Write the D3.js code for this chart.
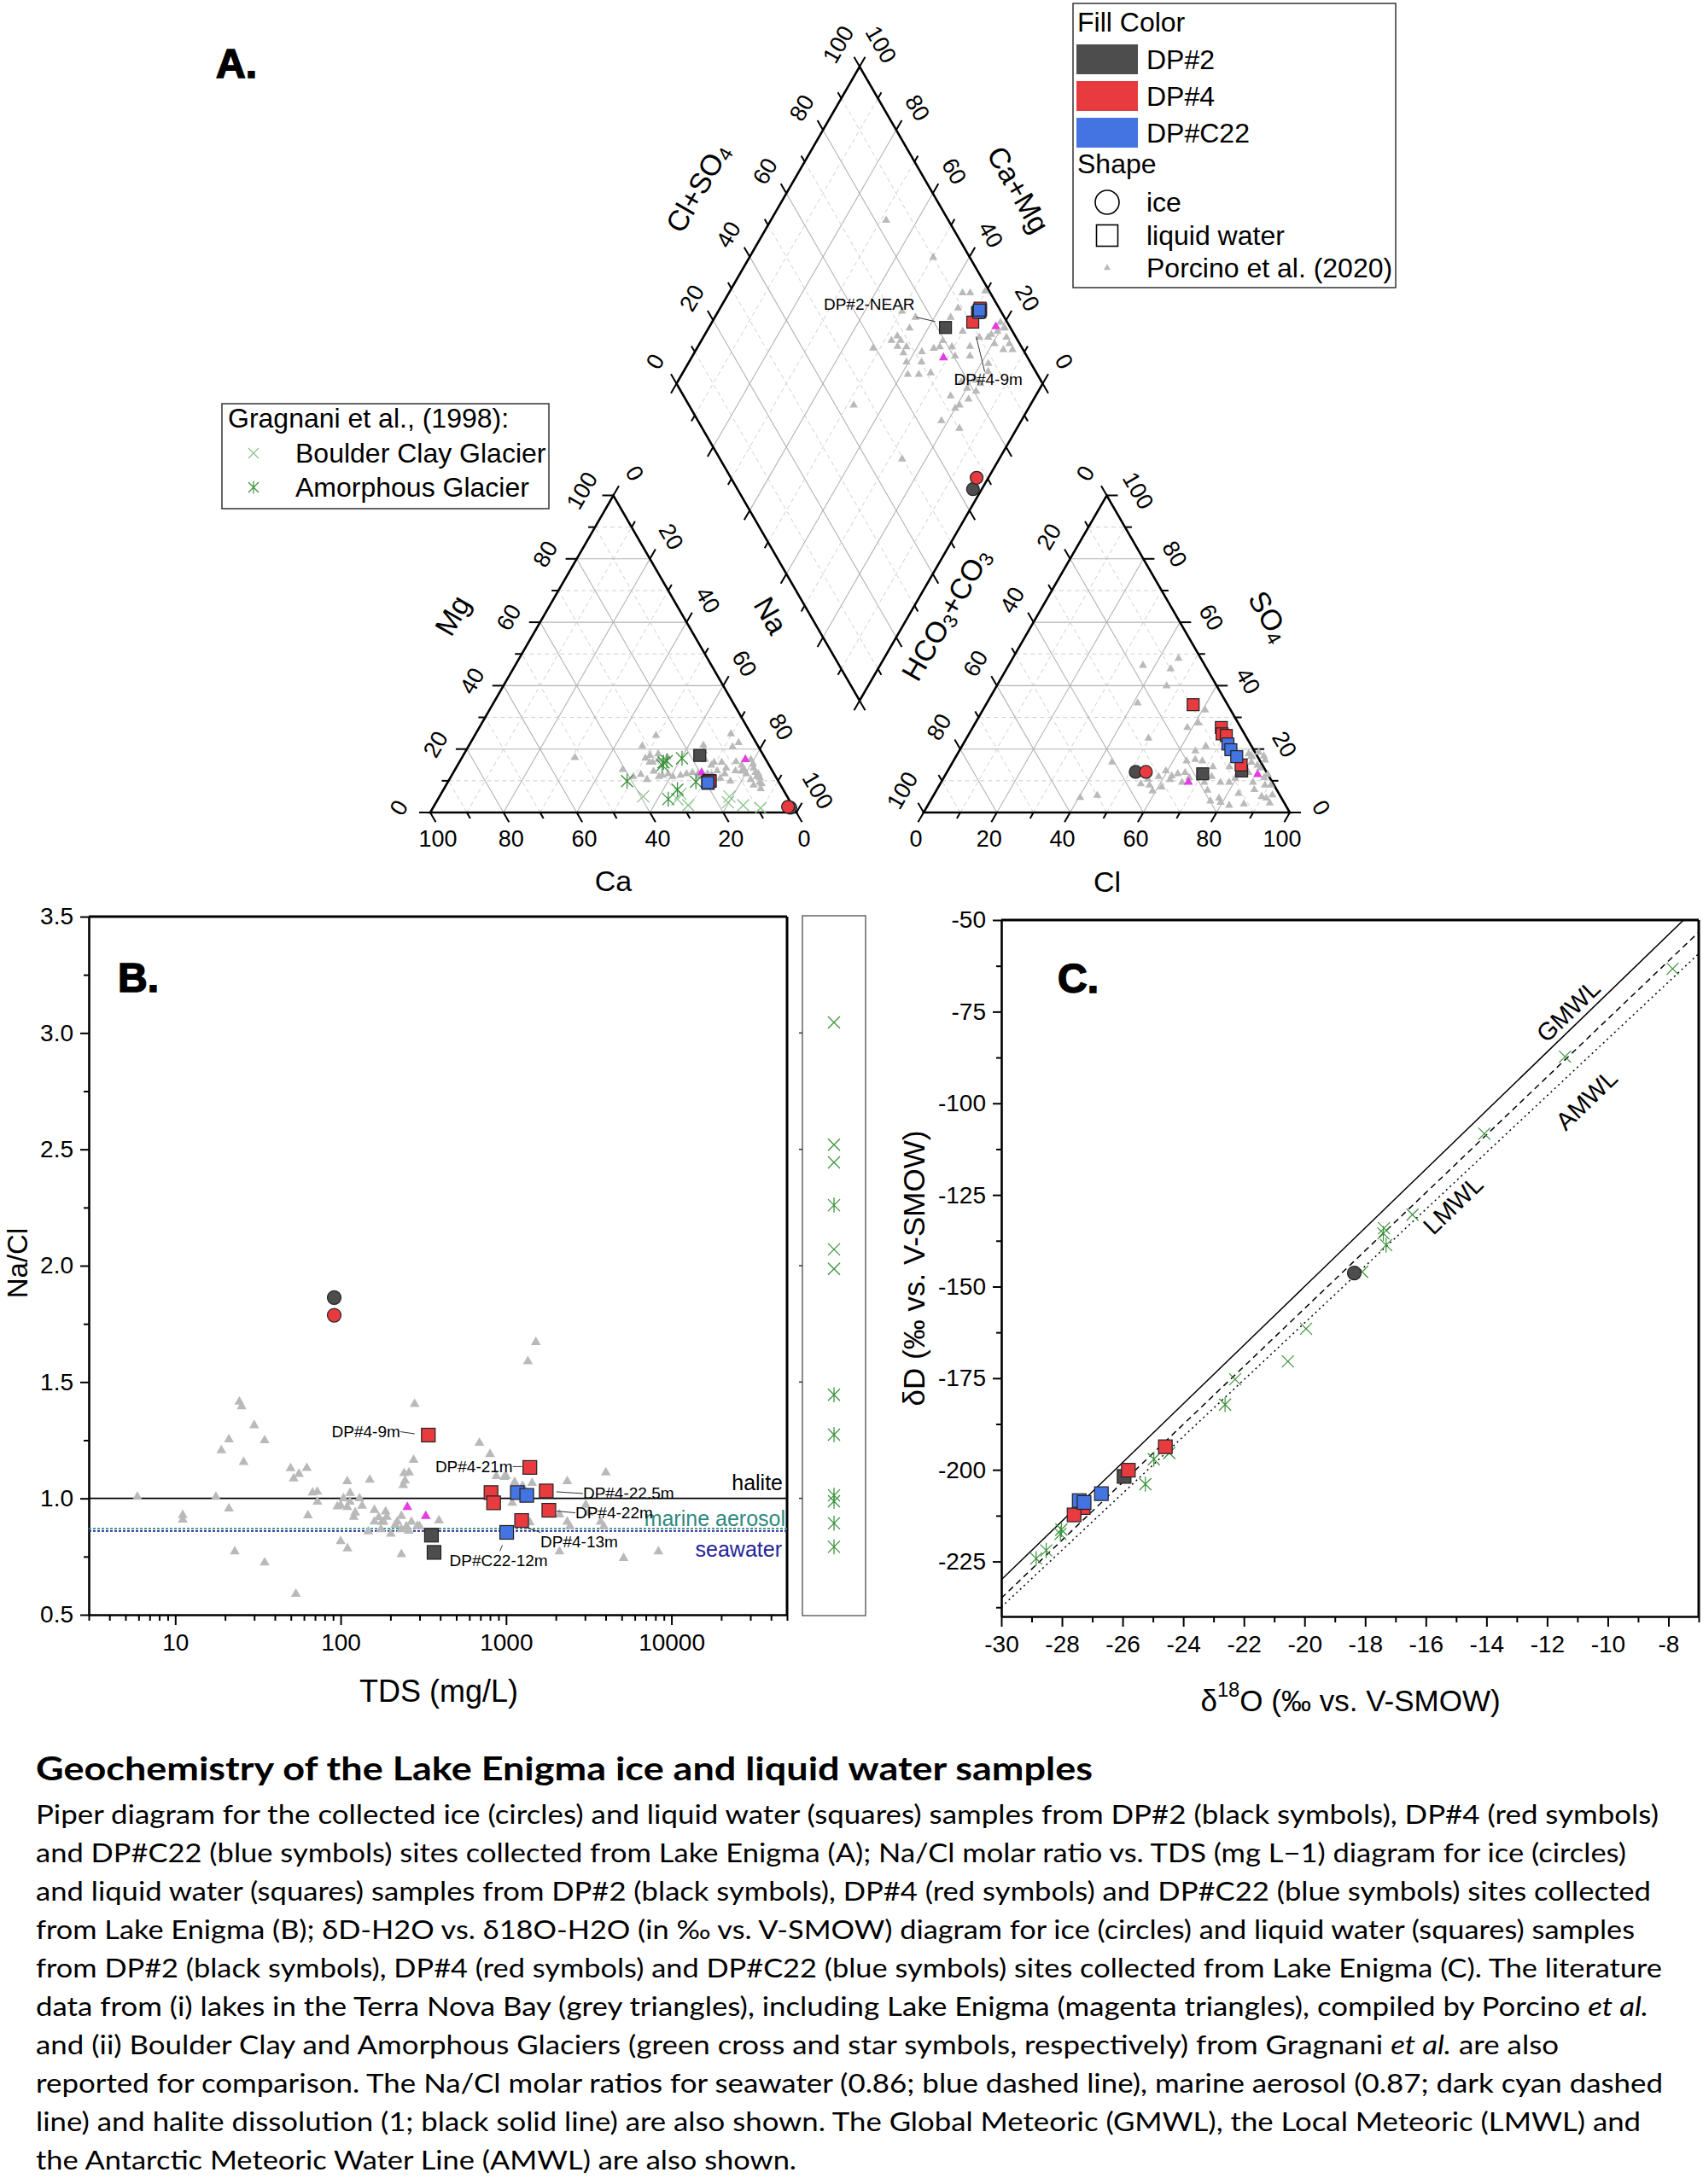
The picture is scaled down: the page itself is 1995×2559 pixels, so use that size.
<!DOCTYPE html>
<html>
<head>
<meta charset="utf-8">
<script src="https://cdn.jsdelivr.net/npm/d3@7/dist/d3.min.js"></script>
<style>
html,body{margin:0;padding:0;background:#fff;}
svg{display:block;}
</style>
</head>
<body>
<svg id="fig" width="1995" height="2559" xmlns="http://www.w3.org/2000/svg"></svg>
<script>
// ======================= DATA =======================
const sites = ["DP#2", "DP#4", "DP#C22"];
const siteColors = ["#4d4d4d", "#e83b40", "#4474e2"];

// Piper (A): cation [Mg %, Na %] (Ca = rest), anion [Cl %, SO4 %] (HCO3 = rest)
const piperIce = [
  {site: "DP#2", cat: [1.5, 97.6], an: [51.5, 12.8]},
  {site: "DP#4", cat: [1.8, 96.8], an: [54.3, 12.8]}
];
const piperWater = [
  {site: "DP#2", cat: [18.0, 64.6], an: [70.1, 12.2], label: "DP#2-NEAR"},
  {site: "DP#2", cat: [9.6, 71.0], an: [80.3, 13.1]},
  {site: "DP#4", cat: [9.8, 71.2], an: [56.6, 34.0], label: "DP#4-9m"},
  {site: "DP#4", cat: [10.0, 71.4], an: [67.9, 26.8]},
  {site: "DP#4", cat: [9.9, 71.3], an: [69.1, 24.8]},
  {site: "DP#4", cat: [10.1, 71.0], an: [70.5, 24.3]},
  {site: "DP#4", cat: [9.9, 71.5], an: [79.2, 15.0]},
  {site: "DP#C22", cat: [9.3, 71.2], an: [72.3, 21.6]},
  {site: "DP#C22", cat: [9.2, 71.3], an: [74.0, 19.8]},
  {site: "DP#C22", cat: [9.4, 71.1], an: [76.7, 17.6]}
];
// Porcino et al. (2020) lakes, cation triangle [Mg, Na]
const porcinoCation = [[17.3,30.9],[24.3,49.5],[21,47.4],[13.5,45.8],[11.3,49.8],[10.4,54],[18,51],[16.7,54],[12.2,58.9],[11.7,62.5],[12.6,65.3],[21.2,64],[19.4,65],[15.8,69.6],[13.1,71.8],[14,73.8],[24.8,69.7],[22,73.2],[20.7,72.2],[14.9,77.6],[16.7,79.2],[14,81.3],[11.3,83.5],[8.6,84],[10.4,82.3],[12.2,80.2],[13.1,76.8],[12.2,74.3],[9.9,77],[9.5,85.2],[10.8,73.8],[12.2,69.6],[11.3,67.7],[11.3,56.8],[15.8,52],[11.7,57.5],[11.3,60.6],[12.2,63.9],[14.9,69.3],[15.8,71.7],[17.1,50.2],[15.8,52.9],[16.7,66.7],[15.3,80.5],[12.6,82.5],[12.2,83.5],[11,84.5],[13.5,79],[9,86],[7.5,86.5],[16,75.5],[13,78.5],[11.8,71],[12.4,67],[17.5,56],[13,54.5],[12,51.5],[18.5,53]];
// anion triangle [Cl, SO4]
const porcinoAnion = [[45.3,48.6],[36.7,46.4],[44.8,45.3],[46.4,39.9],[41.2,34.5],[60.7,32.3],[60.9,28.2],[58.6,26.8],[49.7,23.4],[66.6,20.9],[43.5,15.9],[40.4,4.7],[44.7,5.4],[54.8,9],[57.4,8.6],[59.1,6.8],[58.5,11.3],[59.6,13.1],[62.1,10.4],[63.3,12.2],[65.8,9.5],[63.7,16.2],[65.8,16.7],[68,16.2],[71.8,14.4],[76.5,3.6],[78.4,4.5],[82.3,2.25],[86.1,2.7],[86.7,7.2],[89.8,5],[91.3,4.5],[90.5,8.6],[88.9,8.6],[82.4,12.6],[81.6,15.8],[79.5,18.5],[80.9,17.6],[83.7,14.9],[84.9,14],[76.3,14.4],[79.7,10.8],[78.7,9.5],[76.3,9.5],[79.5,3.2],[85.2,9.5],[65.1,12.6],[64.5,19.4],[73,11.3],[71.9,9.5],[56,10.5],[61,8],[62,11.5],[67,11],[70,12.5],[74,7],[83,6],[87.5,11],[88,12],[85,16.5],[82,19],[84,17.8],[92.5,5.5],[93,3]];
// diamond [Cl+SO4, Na]
const porcinoDiamond = [[83,31.5],[90,50.2],[92.4,63.8],[94.5,65.9],[98.9,69.7],[85.3,64.4],[88.8,65],[75.7,54.8],[73,50.2],[72.4,54.9],[67.8,52.8],[65.5,51.9],[68,54.4],[68.6,57],[66.2,54.5],[59.3,48.1],[66.2,59.4],[70.3,63.5],[64.6,61.7],[67.6,64.7],[71.1,67.7],[75.8,64.7],[77.7,66.1],[81,69.4],[80.4,71.7],[84.5,75.8],[86.4,69.9],[90,75.4],[92.4,77.8],[93.7,78.2],[95.9,79.4],[98.1,78.8],[98.4,80.9],[97.4,82.8],[97.2,84.6],[94.6,83.9],[97.1,86.4],[93.1,80.5],[88.3,82],[87,83.2],[78,77.5],[78.6,80.1],[80.6,83],[83,83],[72.9,76.8],[77.3,82.2],[72.2,80],[73.9,80.7],[66.5,78.2],[70.2,84.3],[45,51.8],[49.7,73.5],[86,74.3],[79.5,66],[82.3,81.3],[72,62],[66.8,57.1]];
// Lake Enigma (Porcino), magenta
const enigmaCation = [[16.7,77.7],[12.6,67.8]];
const enigmaAnion = [[67.5,9.6],[85.2,12]];
const enigmaDiamond = [[77,68.8],[96.2,78.2]];
// Gragnani et al. (1998), cation triangle [Mg, Na]
const boulderCation = [[5.1,55.6],[4.2,65.4],[5.9,65.4],[2.3,69.3],[3.2,79.7],[5,79.2],[2.3,84.3],[1.4,89.5]];
const amorphousCation = [[17.1,60.2],[16.2,56.5],[14.9,55.9],[15.8,55.8],[9.9,48.8],[7.2,63.9],[4.2,62.9],[9.7,67.7]];
const ternTicks = [0,10,20,30,40,50,60,70,80,90,100];

// Panel B: [TDS mg/L, Na/Cl]
const bIce = [{site:"DP#2", v:[91.4,1.863]}, {site:"DP#4", v:[91.4,1.787]}];
const bWater = [
  {site:"DP#2", v:[354,0.842]}, {site:"DP#2", v:[367,0.768]},
  {site:"DP#4", v:[339,1.272], label:"DP#4-9m"},
  {site:"DP#4", v:[1393,1.133], label:"DP#4-21m"},
  {site:"DP#4", v:[811,1.025]}, {site:"DP#4", v:[841,0.981]},
  {site:"DP#4", v:[1750,1.032], label:"DP#4-22.5m"},
  {site:"DP#4", v:[1815,0.949], label:"DP#4-22m"},
  {site:"DP#4", v:[1242,0.905], label:"DP#4-13m"},
  {site:"DP#C22", v:[1170,1.025]}, {site:"DP#C22", v:[1334,1.013]},
  {site:"DP#C22", v:[1009,0.854], label:"DP#C22-12m"}
];
const bPorcino = [[5.9,1.006],[11.1,0.928],[11.1,0.908],[17.6,1.006],[21.1,0.956],[22.9,0.772],[24.4,1.415],[25.2,1.395],[19,1.206],[21.1,1.253],[25.9,1.156],[30,1.314],[34.7,1.249],[34.7,0.724],[49.8,1.129],[52,1.085],[56,1.105],[62.4,1.13],[63.4,0.927],[67.6,1.025],[72.2,1.028],[72.4,0.985],[53.6,0.589],[95.5,0.965],[100,0.816],[109.6,1.073],[110,0.785],[104,1.0],[113.7,0.985],[114,1.023],[109.6,0.962],[122.5,0.939],[134.8,0.968],[150,1.08],[147,0.858],[170,0.918],[178,0.899],[182,0.899],[187,0.943],[175,0.867],[201,0.848],[214,0.886],[233,0.867],[233,0.76],[233,0.924],[239,1.057],[242,1.108],[245,1.076],[259,1.111],[280,1.405],[276,1.165],[258,0.861],[268,0.899],[291,0.882],[393,0.905],[690,1.238],[800,1.19],[873,1.095],[975,1.092],[1000,1.095],[1127,1.07],[1259,1.053],[1355,1.589],[1514,1.671],[1437,1.066],[1090,0.981],[1393,0.896],[2104,0.93],[2104,0.772],[2344,1.073],[2344,0.899],[2433,0.88],[3034,0.972],[3149,0.939],[3726,0.899],[3900,0.88],[4010,1.111],[5140,0.743],[8340,0.772],[100,0.97],[120,0.92],[160,0.9],[190,0.92],[220,0.9],[250,0.88],[300,0.88],[130,1.0],[160,0.95]];
const bEnigma = [[253,0.962],[327,0.924]];
const bBoulder = [3.045, 2.52, 2.444, 2.07, 1.986];
const bAmorphous = [2.26, 1.445, 1.274, 1.013, 0.988, 0.893, 0.792];
const bRefLines = [{name:"halite", v:1.0, color:"#000", dash:null},
                   {name:"marine aerosol", v:0.87, color:"#2f8a80", dash:"3,2"},
                   {name:"seawater", v:0.86, color:"#23239a", dash:"3,2"}];
const bYTicks = [0.5,1.0,1.5,2.0,2.5,3.0,3.5];
const bXTicks = [10,100,1000,10000];

// Panel C: [d18O, dD]
const cIce = [{site:"DP#2", v:[-18.36,-146.3]}];
const cWater = [
  {site:"DP#2", v:[-25.95,-201.8]},
  {site:"DP#4", v:[-24.59,-193.7]}, {site:"DP#4", v:[-25.81,-200.1]},
  {site:"DP#4", v:[-27.3,-210.3]}, {site:"DP#4", v:[-27.6,-212.3]},
  {site:"DP#C22", v:[-26.7,-206.5]}, {site:"DP#C22", v:[-27.43,-208.4]}, {site:"DP#C22", v:[-27.27,-208.9]}
];
const cBoulder = [[-7.86,-63.3],[-11.41,-87.3],[-14.07,-108.3],[-16.44,-130.4],[-17.38,-134.1],[-18.1,-146],[-19.95,-161.5],[-20.55,-170.4],[-22.29,-175.3],[-24.46,-195.4]];
const cAmorphous = [[-17.31,-138.7],[-17.4,-135.5],[-22.62,-182.2],[-24.97,-197.1],[-25.25,-203.9],[-28.02,-216.3],[-28.05,-217.5],[-28.52,-222],[-28.85,-224.2]];
// meteoric water lines dD = slope*d18O + intercept
const cLines = [{name:"GMWL", slope:8, icpt:10, dash:null, at:-11.3, off:[0,-24]},
                {name:"LMWL", slope:7.9, icpt:2, dash:"7,5", at:-15.1, off:[0,45]},
                {name:"AMWL", slope:7.75, icpt:-4.93, dash:"2,4", at:-10.7, off:[0,48]}];
const cXTicks = [-30,-28,-26,-24,-22,-20,-18,-16,-14,-12,-10,-8];
const cYTicks = [-225,-200,-175,-150,-125,-100,-75,-50];

// Caption
const captionTitle = "Geochemistry of the Lake Enigma ice and liquid water samples";
const captionLines = [
  [["Piper diagram for the collected ice (circles) and liquid water (squares) samples from DP#2 (black symbols), DP#4 (red symbols)"]],
  [["and DP#C22 (blue symbols) sites collected from Lake Enigma (A); Na/Cl molar ratio vs. TDS (mg L\u22121) diagram for ice (circles)"]],
  [["and liquid water (squares) samples from DP#2 (black symbols), DP#4 (red symbols) and DP#C22 (blue symbols) sites collected"]],
  [["from Lake Enigma (B); \u03b4D-H2O vs. \u03b418O-H2O (in \u2030 vs. V-SMOW) diagram for ice (circles) and liquid water (squares) samples"]],
  [["from DP#2 (black symbols), DP#4 (red symbols) and DP#C22 (blue symbols) sites collected from Lake Enigma (C). The literature"]],
  [["data from (i) lakes in the Terra Nova Bay (grey triangles), including Lake Enigma (magenta triangles), compiled by Porcino "],["et al.",1]],
  [["and (ii) Boulder Clay and Amorphous Glaciers (green cross and star symbols, respectively) from Gragnani "],["et al.",1],[" are also"]],
  [["reported for comparison. The Na/Cl molar ratios for seawater (0.86; blue dashed line), marine aerosol (0.87; dark cyan dashed"]],
  [["line) and halite dissolution (1; black solid line) are also shown. The Global Meteoric (GMWL), the Local Meteoric (LMWL) and"]],
  [["the Antarctic Meteoric Water Line (AMWL) are also shown."]]
];
const captionWidths = [1901,1863,1892,1873,1905,1889,1784,1906,1880,891];

// ======================= DRAW =======================
const FONT = "'Liberation Sans', Arial, Helvetica, sans-serif";
const GRAY = "#b9b9b9", MAG = "#e23ee2", GREEN = "#3c923c", LGREEN = "#86c086";
const colorOf = s => siteColors[sites.indexOf(s)];
const svg = d3.select("#fig");
svg.append("rect").attr("width",1995).attr("height",2559).attr("fill","#fff");

function mk(g, kind, p, o = {}) {
  const [x, y] = p;
  if (kind === "circle") {
    g.append("circle").attr("cx", x).attr("cy", y).attr("r", o.r || 7)
      .attr("fill", o.fill || "none").attr("stroke", o.stroke || "#222").attr("stroke-width", o.sw || 1.2);
  } else if (kind === "square") {
    const s = o.s || 13;
    g.append("rect").attr("x", x - s/2).attr("y", y - s/2).attr("width", s).attr("height", s)
      .attr("fill", o.fill || "none").attr("stroke", o.stroke || "#222").attr("stroke-width", o.sw || 1.2);
  } else if (kind === "tri") {
    g.append("path").attr("d", d3.symbol(d3.symbolTriangle, o.area || 30)())
      .attr("transform", `translate(${x},${y})`).attr("fill", o.fill || GRAY);
  } else if (kind === "cross" || kind === "star") {
    const s = o.s || 6;
    let d = `M${x-s},${y-s}L${x+s},${y+s}M${x-s},${y+s}L${x+s},${y-s}`;
    if (kind === "star") d += `M${x},${y-s*1.25}L${x},${y+s*1.25}`;
    g.append("path").attr("d", d).attr("stroke", o.stroke || GREEN).attr("stroke-width", o.sw || 1.2).attr("fill", "none");
  }
}
function line(g, p, q, attrs) {
  const l = g.append("line").attr("x1", p[0]).attr("y1", p[1]).attr("x2", q[0]).attr("y2", q[1]);
  for (const k in attrs) l.attr(k, attrs[k]);
  return l;
}
// rich text: parts [text, 'sub'|'sup'|null]
function rich(g, x, y, parts, o = {}) {
  const t = g.append("text").attr("font-family", FONT).attr("font-size", o.fs || 30)
    .attr("text-anchor", o.anchor || "middle").attr("fill", o.fill || "#000")
    .attr("transform", `translate(${x},${y}) rotate(${o.rot || 0})`);
  if (o.baseline) t.attr("dominant-baseline", o.baseline);
  const fs = o.fs || 30;
  let shift = 0;
  parts.forEach(([txt, mode]) => {
    const ts = t.append("tspan").text(txt);
    let target = 0;
    if (mode === "sub") { target = fs * 0.25; ts.attr("font-size", fs * 0.68); }
    if (mode === "sup") { target = -fs * 0.38; ts.attr("font-size", fs * 0.68); }
    if (target !== shift) { ts.attr("dy", target - shift); shift = target; }
  });
  return t;
}

// ---------------- Panel A : Piper ----------------
const S = 429, HH = S * Math.sqrt(3) / 2;
const LT = {bl: [504, 952], br: [504 + S, 952], ap: [504 + S/2, 952 - HH]};
const RT = {bl: [1082, 952], br: [1082 + S, 952], ap: [1082 + S/2, 952 - HH]};
const DM = {left: [1007 - S/2, 449.5], top: [1007, 449.5 - HH], right: [1007 + S/2, 449.5], bottom: [1007, 449.5 + HH]};
const pc = d3.scaleLinear().domain([0, 100]).range([0, 1]);
function tern(T, wBL, wBR, wAP) {
  const a = pc(wBL), b = pc(wBR), c = pc(wAP);
  return [a*T.bl[0] + b*T.br[0] + c*T.ap[0], a*T.bl[1] + b*T.br[1] + c*T.ap[1]];
}
const catPos = d => tern(LT, 100 - d[0] - d[1], d[1], d[0]);
const anPos = d => tern(RT, 100 - d[0] - d[1], d[0], d[1]);
function dmPos(a, n) {
  const A = pc(a), N = pc(n);
  return [DM.left[0] + A*(DM.top[0]-DM.left[0]) + N*(DM.right[0]-DM.top[0]),
          DM.left[1] + A*(DM.top[1]-DM.left[1]) + N*(DM.right[1]-DM.top[1])];
}
const gA = svg.append("g").attr("font-family", FONT);
const gridG = gA.append("g");
const majorStyle = {stroke: "#b3b3b3", "stroke-width": 1.1};
const minorStyle = {stroke: "#cfcfcf", "stroke-width": 1, "stroke-dasharray": "5,4"};
ternTicks.filter(v => v > 0 && v < 100).forEach(v => {
  const st = v % 20 === 0 ? majorStyle : minorStyle;
  [LT, RT].forEach(T => {
    line(gridG, tern(T, v, 100-v, 0), tern(T, v, 0, 100-v), st);
    line(gridG, tern(T, 100-v, v, 0), tern(T, 0, v, 100-v), st);
    line(gridG, tern(T, 100-v, 0, v), tern(T, 0, 100-v, v), st);
  });
  line(gridG, dmPos(v, 0), dmPos(v, 100), st);
  line(gridG, dmPos(0, v), dmPos(100, v), st);
});
// outlines
[[LT.bl, LT.br, LT.ap], [RT.bl, RT.br, RT.ap], [DM.left, DM.top, DM.right, DM.bottom]].forEach(pts => {
  gA.append("path").attr("d", "M" + pts.map(p => p.join(",")).join("L") + "Z")
    .attr("fill", "none").attr("stroke", "#000").attr("stroke-width", 2.6).attr("stroke-linejoin", "miter");
});
// ticks and tick labels
const edgeSpecs = [
  {pt: v => tern(LT, v, 100-v, 0), dir: [0.5, 0.866], nrm: [0, 1], a: 18, b: 15, rot: 0, lab: true},
  {pt: v => tern(LT, 100-v, 0, v), dir: [-1, 0], nrm: [-0.866, -0.5], a: 27, b: 11, rot: -60, lab: true},
  {pt: v => tern(LT, 0, v, 100-v), dir: [0.5, -0.866], nrm: [0.866, -0.5], a: 20, b: 17, rot: 60, lab: true},
  {pt: v => tern(RT, 100-v, v, 0), dir: [-0.5, 0.866], nrm: [0, 1], a: 18, b: 15, rot: 0, lab: true},
  {pt: v => tern(RT, v, 0, 100-v), dir: [-0.5, -0.866], nrm: [-0.866, -0.5], a: 20, b: 17, rot: -60, lab: true},
  {pt: v => tern(RT, 0, 100-v, v), dir: [1, 0], nrm: [0.866, -0.5], a: 27, b: 11, rot: 60, lab: true},
  {pt: v => dmPos(v, 0), dir: [-0.5, -0.866], nrm: [-0.866, -0.5], a: 20, b: 17, rot: -60, lab: true},
  {pt: v => dmPos(100, 100-v), dir: [0.5, -0.866], nrm: [0.866, -0.5], a: 20, b: 17, rot: 60, lab: true},
  {pt: v => dmPos(0, v), dir: [-0.5, 0.866], lab: false},
  {pt: v => dmPos(v, 100), dir: [0.5, 0.866], lab: false}
];
edgeSpecs.forEach(e => {
  ternTicks.forEach(v => {
    const p = e.pt(v);
    const len = v % 20 === 0 ? 13 : 8;
    line(gA, p, [p[0] + e.dir[0]*len, p[1] + e.dir[1]*len], {stroke: "#000", "stroke-width": 2});
    if (e.lab && v % 20 === 0) {
      const lx = p[0] + e.a*e.dir[0] + e.b*e.nrm[0], ly = p[1] + e.a*e.dir[1] + e.b*e.nrm[1];
      gA.append("text").attr("font-size", 27).attr("text-anchor", "middle").attr("dominant-baseline", "central")
        .attr("transform", `translate(${lx},${ly}) rotate(${e.rot})`).text(v);
    }
  });
});
// axis titles
rich(gA, 817, 220, [["Cl+SO"], ["4", "sub"]], {fs: 34, rot: -60, baseline: "central"});
rich(gA, 1193, 222, [["Ca+Mg"]], {fs: 34, rot: 60, baseline: "central"});
rich(gA, 530, 721, [["Mg"]], {fs: 34, rot: -60, baseline: "central"});
rich(gA, 903, 721, [["Na"]], {fs: 34, rot: 60, baseline: "central"});
rich(gA, 718.5, 1032, [["Ca"]], {fs: 34, baseline: "central"});
rich(gA, 1108, 720, [["HCO"], ["3", "sub"], ["+CO", null], ["3", "sub"]], {fs: 34, rot: -60, baseline: "central"});
rich(gA, 1487, 722, [["SO"], ["4", "sub"]], {fs: 34, rot: 60, baseline: "central"});
rich(gA, 1297, 1033, [["Cl"]], {fs: 34, baseline: "central"});
gA.append("text").attr("x", 253).attr("y", 91).attr("font-size", 48).attr("font-weight", 900)
  .attr("stroke", "#000").attr("stroke-width", 1.6).text("A.");

// points
const ptsA = gA.append("g");
porcinoCation.forEach(d => mk(ptsA, "tri", catPos(d), {area: 40}));
porcinoAnion.forEach(d => mk(ptsA, "tri", anPos(d), {area: 40}));
porcinoDiamond.forEach(d => mk(ptsA, "tri", dmPos(d[0], d[1]), {area: 40}));
enigmaCation.forEach(d => mk(ptsA, "tri", catPos(d), {area: 50, fill: MAG}));
enigmaAnion.forEach(d => mk(ptsA, "tri", anPos(d), {area: 50, fill: MAG}));
enigmaDiamond.forEach(d => mk(ptsA, "tri", dmPos(d[0], d[1]), {area: 50, fill: MAG}));
boulderCation.forEach(d => mk(ptsA, "cross", catPos(d), {s: 7, stroke: LGREEN, sw: 1.2}));
amorphousCation.forEach(d => mk(ptsA, "star", catPos(d), {s: 7, stroke: GREEN, sw: 1.3}));
piperIce.forEach(d => {
  const f = colorOf(d.site);
  mk(ptsA, "circle", catPos(d.cat), {r: 7.5, fill: f});
  mk(ptsA, "circle", anPos(d.an), {r: 7.5, fill: f});
  mk(ptsA, "circle", dmPos(d.an[0] + d.an[1], d.cat[1]), {r: 7.5, fill: f});
});
sites.forEach(s => piperWater.filter(d => d.site === s).forEach(d => {
  const f = colorOf(d.site);
  mk(ptsA, "square", catPos(d.cat), {s: 14, fill: f});
  mk(ptsA, "square", anPos(d.an), {s: 14, fill: f});
  mk(ptsA, "square", dmPos(d.an[0] + d.an[1], d.cat[1]), {s: 14, fill: f});
}));
// labels in diamond
piperWater.filter(d => d.label).forEach(d => {
  const p = dmPos(d.an[0] + d.an[1], d.cat[1]);
  if (d.label === "DP#2-NEAR") {
    ptsA.append("text").attr("x", p[0] - 36).attr("y", p[1] - 21).attr("font-size", 19).attr("text-anchor", "end").text(d.label);
    line(ptsA, [p[0] - 34, p[1] - 12], [p[0] - 12, p[1] - 7], {stroke: "#333", "stroke-width": 1});
  } else {
    ptsA.append("text").attr("x", p[0] - 22).attr("y", p[1] + 74).attr("font-size", 19).text(d.label);
    line(ptsA, [p[0] + 4, p[1] + 17], [p[0] + 14, p[1] + 58], {stroke: "#333", "stroke-width": 1});
  }
});

// legends
const lg = svg.append("g").attr("font-family", FONT);
lg.append("rect").attr("x", 1257).attr("y", 4).attr("width", 378).attr("height", 333)
  .attr("fill", "#fff").attr("stroke", "#333").attr("stroke-width", 1.5);
lg.append("text").attr("x", 1262).attr("y", 37).attr("font-size", 32).text("Fill Color");
sites.forEach((s, i) => {
  lg.append("rect").attr("x", 1261).attr("y", 52 + i*43).attr("width", 72).attr("height", 35).attr("fill", siteColors[i]);
  lg.append("text").attr("x", 1343).attr("y", 81 + i*43).attr("font-size", 32).text(s);
});
lg.append("text").attr("x", 1262).attr("y", 203).attr("font-size", 32).text("Shape");
mk(lg, "circle", [1297, 237], {r: 14, fill: "#fff", stroke: "#000", sw: 1.6});
lg.append("text").attr("x", 1343).attr("y", 248).attr("font-size", 32).text("ice");
mk(lg, "square", [1297, 276], {s: 25, fill: "#fff", stroke: "#000", sw: 1.6});
lg.append("text").attr("x", 1343).attr("y", 287).attr("font-size", 32).text("liquid water");
mk(lg, "tri", [1297, 314], {area: 28});
lg.append("text").attr("x", 1343).attr("y", 325).attr("font-size", 32).text("Porcino et al. (2020)");

lg.append("rect").attr("x", 260).attr("y", 473).attr("width", 383).attr("height", 123)
  .attr("fill", "#fff").attr("stroke", "#333").attr("stroke-width", 1.5);
lg.append("text").attr("x", 267).attr("y", 501).attr("font-size", 32).text("Gragnani et al., (1998):");
mk(lg, "cross", [297, 531], {s: 6, stroke: LGREEN, sw: 1.1});
lg.append("text").attr("x", 346).attr("y", 542).attr("font-size", 32).text("Boulder Clay Glacier");
mk(lg, "star", [297, 571], {s: 6, stroke: GREEN, sw: 1.2});
lg.append("text").attr("x", 346).attr("y", 582).attr("font-size", 32).text("Amorphous Glacier");

// ---------------- Panel B ----------------
function styleAxis(sel, fs, sw) {
  sel.attr("font-family", FONT).attr("font-size", fs);
  sel.selectAll(".domain").attr("stroke", "#000").attr("stroke-width", sw || 2.6);
  sel.selectAll(".tick line").attr("stroke", "#000").attr("stroke-width", 2);
  sel.selectAll(".tick text").attr("fill", "#000");
}
const gB = svg.append("g").attr("font-family", FONT);
const bx = d3.scaleLog().domain([3, 50000]).range([104, 922]);
const by = d3.scaleLinear().domain([0.5, 3.5]).range([1892, 1074]);
const bxMinor = [];
for (let e = 0; e < 5; e++) for (let m = 2; m <= 9; m++) {
  const v = m * Math.pow(10, e);
  if (v >= 3 && v <= 50000 && !bXTicks.includes(v)) bxMinor.push(v);
}
const byMinor = d3.range(0.75, 3.5, 0.5);
gB.append("g").attr("transform", "translate(0,1892)")
  .call(d3.axisBottom(bx).tickValues(bxMinor).tickFormat("").tickSize(7).tickSizeOuter(0))
  .call(s => { styleAxis(s, 28); s.select(".domain").remove(); });
gB.append("g").attr("transform", "translate(0,1892)")
  .call(d3.axisBottom(bx).tickValues(bXTicks).tickFormat(d3.format("d")).tickSize(12).tickSizeOuter(0).tickPadding(10))
  .call(s => styleAxis(s, 28));
gB.append("g").attr("transform", "translate(104,0)")
  .call(d3.axisLeft(by).tickValues(byMinor).tickFormat("").tickSize(6).tickSizeOuter(0))
  .call(s => { styleAxis(s, 28); s.select(".domain").remove(); });
gB.append("g").attr("transform", "translate(104,0)")
  .call(d3.axisLeft(by).tickValues(bYTicks).tickFormat(d3.format(".1f")).tickSize(10).tickSizeOuter(0).tickPadding(8))
  .call(s => styleAxis(s, 28));
line(gB, [104, 1074], [922, 1074], {stroke: "#000", "stroke-width": 3});
line(gB, [922, 1074], [922, 1892], {stroke: "#000", "stroke-width": 3});
gB.append("text").attr("x", 138).attr("y", 1162).attr("font-size", 48).attr("font-weight", 900)
  .attr("stroke", "#000").attr("stroke-width", 1.6).text("B.");
rich(gB, 20, 1480, [["Na/Cl"]], {fs: 33, rot: -90, baseline: "central"});
rich(gB, 514, 1981, [["TDS (mg/L)"]], {fs: 36, baseline: "central"});
// reference lines
bRefLines.forEach(r => {
  const l = line(gB, [bx(3), by(r.v)], [bx(50000), by(r.v)], {stroke: r.color, "stroke-width": 1.6});
  if (r.dash) l.attr("stroke-dasharray", r.dash);
});
gB.append("text").attr("x", 917).attr("y", 1737).attr("font-size", 25).attr("text-anchor", "end").attr("dominant-baseline", "central").text("halite");
gB.append("text").attr("x", 920).attr("y", 1779).attr("font-size", 25).attr("text-anchor", "end").attr("dominant-baseline", "central").attr("fill", "#2f8a80").text("marine aerosol");
gB.append("text").attr("x", 916).attr("y", 1815).attr("font-size", 25).attr("text-anchor", "end").attr("dominant-baseline", "central").attr("fill", "#23239a").text("seawater");
// points
const ptsB = gB.append("g");
const bPos = d => [bx(d[0]), by(d[1])];
bPorcino.forEach(d => mk(ptsB, "tri", bPos(d), {area: 58}));
bEnigma.forEach(d => mk(ptsB, "tri", bPos(d), {area: 58, fill: MAG}));
bIce.forEach(d => mk(ptsB, "circle", bPos(d.v), {r: 8, fill: colorOf(d.site)}));
sites.forEach(s => bWater.filter(d => d.site === s).forEach(d => mk(ptsB, "square", bPos(d.v), {s: 16, fill: colorOf(d.site)})));
const bLabelOff = {
  "DP#4-9m": {t: [-33, -4], a: "end", l: [[-33, -4], [-16, -1.5]]},
  "DP#4-21m": {t: [-20, -1], a: "end", l: [[-20, -1], [-9, -1]]},
  "DP#4-22.5m": {t: [43, 3], a: "start", l: [[12, 1], [43, 3]]},
  "DP#4-22m": {t: [31, 3], a: "start", l: [[9, 1], [31, 3]]},
  "DP#4-13m": {t: [22, 25], a: "start", l: [[5, 8], [22, 14]]},
  "DP#C22-12m": {t: [-67, 33], a: "start", l: [[-5, 15], [-8, 22]]}
};
bWater.filter(d => d.label).forEach(d => {
  const p = bPos(d.v), o = bLabelOff[d.label];
  ptsB.append("text").attr("x", p[0] + o.t[0]).attr("y", p[1] + o.t[1]).attr("font-size", 19)
    .attr("text-anchor", o.a).attr("dominant-baseline", "central").text(d.label);
  line(ptsB, [p[0] + o.l[0][0], p[1] + o.l[0][1]], [p[0] + o.l[1][0], p[1] + o.l[1][1]], {stroke: "#333", "stroke-width": 1});
});
// side strip
const strip = gB.append("g");
strip.append("rect").attr("x", 940).attr("y", 1073).attr("width", 74).attr("height", 820)
  .attr("fill", "#fff").attr("stroke", "#666").attr("stroke-width", 1.5);
[1.0, 1.5, 2.0, 2.5, 3.0].forEach(v => line(strip, [936, by(v)], [940, by(v)], {stroke: "#333", "stroke-width": 1.5}));
bBoulder.forEach(v => mk(strip, "cross", [977, by(v)], {s: 7, stroke: GREEN, sw: 1.3}));
bAmorphous.forEach(v => mk(strip, "star", [977, by(v)], {s: 7, stroke: GREEN, sw: 1.3}));

// ---------------- Panel C ----------------
const gC = svg.append("g").attr("font-family", FONT);
const cx = d3.scaleLinear().domain([-30, -7]).range([1173, 1990]);
const cy = d3.scaleLinear().domain([-240, -50]).range([1894, 1078]);
const fmtC = d => String(d);
gC.append("g").attr("transform", "translate(0,1894)")
  .call(d3.axisBottom(cx).tickValues(d3.range(-29, -6, 2)).tickFormat("").tickSize(7).tickSizeOuter(0))
  .call(s => { styleAxis(s, 28); s.select(".domain").remove(); });
gC.append("g").attr("transform", "translate(0,1894)")
  .call(d3.axisBottom(cx).tickValues(cXTicks).tickFormat(fmtC).tickSize(12).tickSizeOuter(0).tickPadding(10))
  .call(s => styleAxis(s, 28));
gC.append("g").attr("transform", "translate(1173,0)")
  .call(d3.axisLeft(cy).tickValues(d3.range(-237.5, -50, 25)).tickFormat("").tickSize(6).tickSizeOuter(0))
  .call(s => { styleAxis(s, 28); s.select(".domain").remove(); });
gC.append("g").attr("transform", "translate(1173,0)")
  .call(d3.axisLeft(cy).tickValues(cYTicks).tickFormat(fmtC).tickSize(10).tickSizeOuter(0).tickPadding(8))
  .call(s => styleAxis(s, 28));
line(gC, [1173, 1078], [1990, 1078], {stroke: "#000", "stroke-width": 3});
line(gC, [1990, 1078], [1990, 1894], {stroke: "#000", "stroke-width": 3});
gC.append("text").attr("x", 1239).attr("y", 1163).attr("font-size", 48).attr("font-weight", 900)
  .attr("stroke", "#000").attr("stroke-width", 1.6).text("C.");
rich(gC, 1070, 1486, [["\u03b4D (\u2030 vs. V-SMOW)"]], {fs: 35, rot: -90, baseline: "central"});
rich(gC, 1582, 1992, [["\u03b4"], ["18", "sup"], ["O (\u2030 vs. V-SMOW)", null]], {fs: 35, baseline: "central"});
// lines, clipped to the plot box
svg.append("clipPath").attr("id", "clipC").append("rect").attr("x", 1173).attr("y", 1078).attr("width", 817).attr("height", 816);
const lineG = gC.append("g").attr("clip-path", "url(#clipC)");
const ang = Math.atan2(cy(-50) - cy(-58), cx(-7) - cx(-8)) * 180 / Math.PI;
cLines.forEach(L => {
  const xs = [-30, -7];
  const l = lineG.append("line").attr("x1", cx(xs[0])).attr("y1", cy(L.slope*xs[0] + L.icpt))
    .attr("x2", cx(xs[1])).attr("y2", cy(L.slope*xs[1] + L.icpt)).attr("stroke", "#000").attr("stroke-width", 1.5);
  if (L.dash) l.attr("stroke-dasharray", L.dash);
  const px = cx(L.at) + L.off[0], py = cy(L.slope*L.at + L.icpt) + L.off[1];
  gC.append("text").attr("font-size", 29).attr("text-anchor", "middle").attr("dominant-baseline", "central")
    .attr("transform", `translate(${px},${py}) rotate(${ang})`).text(L.name);
});
const ptsC = gC.append("g");
const cPos = d => [cx(d[0]), cy(d[1])];
cBoulder.forEach(d => mk(ptsC, "cross", cPos(d), {s: 7, stroke: GREEN, sw: 1.2}));
cAmorphous.forEach(d => mk(ptsC, "star", cPos(d), {s: 7, stroke: GREEN, sw: 1.2}));
cIce.forEach(d => mk(ptsC, "circle", cPos(d.v), {r: 8, fill: colorOf(d.site)}));
sites.forEach(s => cWater.filter(d => d.site === s).forEach(d => mk(ptsC, "square", cPos(d.v), {s: 16, fill: colorOf(d.site)})));

// ---------------- Caption ----------------
const CAPF = "Lato, 'Open Sans', sans-serif";
svg.append("text").attr("x", 42).attr("y", 2086).attr("font-family", CAPF).attr("font-weight", 700)
  .attr("font-size", 38).attr("textLength", 1238).attr("lengthAdjust", "spacingAndGlyphs").text(captionTitle);
captionLines.forEach((parts, i) => {
  const t = svg.append("text").attr("x", 42).attr("y", 2137 + i*45).attr("font-family", CAPF)
    .attr("font-size", 31).attr("textLength", captionWidths[i]).attr("lengthAdjust", "spacingAndGlyphs")
    .attr("xml:space", "preserve");
  parts.forEach(([txt, it]) => {
    const ts = t.append("tspan").text(txt);
    if (it) ts.attr("font-style", "italic");
  });
});
</script>
</body>
</html>
